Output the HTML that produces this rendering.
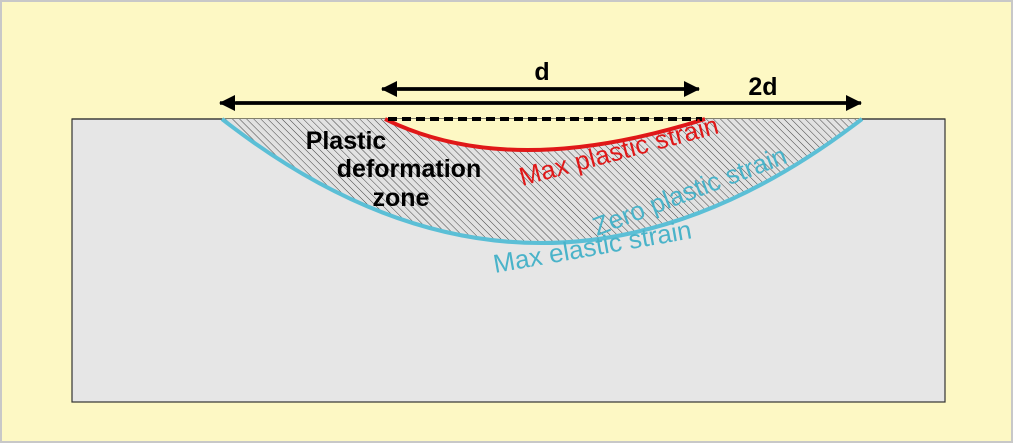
<!DOCTYPE html>
<html><head><style>
html,body{margin:0;padding:0;background:#fdf8c4;}
svg{display:block;}
</style></head><body>
<svg width="1013" height="443" viewBox="0 0 1013 443" xmlns="http://www.w3.org/2000/svg">
<defs>
<pattern id="h" width="5" height="5" patternUnits="userSpaceOnUse" patternTransform="rotate(-45)">
<rect width="5" height="5" fill="#e2e2e2"/>
<line x1="0" y1="0" x2="0" y2="5" stroke="#444" stroke-width="1"/>
</pattern>
<marker id="a" markerWidth="16" markerHeight="16" refX="15" refY="8" orient="auto" markerUnits="userSpaceOnUse">
<path d="M0,0 L16,8 L0,16 Z" fill="#000"/>
</marker>
</defs>
<rect x="1" y="1" width="1011" height="441" fill="#fdf8c4" stroke="#c8c8c8" stroke-width="2"/>
<rect x="72" y="119" width="873" height="283" fill="#e6e6e6" stroke="#333" stroke-width="1.2"/>
<path d="M222,119 Q540,367 862,119 Z" fill="url(#h)"/>
<path d="M385,119 Q510,181 705,119 Z" fill="#fdf8c4"/>
<line x1="72" y1="119" x2="222" y2="119" stroke="#333" stroke-width="1.2"/>
<line x1="862" y1="119" x2="945" y2="119" stroke="#333" stroke-width="1.2"/>
<path d="M222,119 Q540,367 862,119" fill="none" stroke="#5bbfd6" stroke-width="4"/>
<path d="M385,119 Q510,181 705,119" fill="none" stroke="#e01818" stroke-width="4"/>
<line x1="388" y1="119" x2="702" y2="119" stroke="#000" stroke-width="4" stroke-dasharray="9,5"/>
<line x1="236" y1="103" x2="861" y2="103" stroke="#000" stroke-width="3.5" marker-end="url(#a)"/>
<line x1="846" y1="103" x2="220" y2="103" stroke="#000" stroke-width="3.5" marker-end="url(#a)"/>
<line x1="398" y1="89" x2="699" y2="89" stroke="#000" stroke-width="3.5" marker-end="url(#a)"/>
<line x1="684" y1="89" x2="382" y2="89" stroke="#000" stroke-width="3.5" marker-end="url(#a)"/>
<g font-family="Liberation Sans, sans-serif" font-weight="bold" font-size="25" fill="#000" text-anchor="middle">
<text x="542" y="80">d</text>
<text x="763" y="95">2d</text>
<text x="346" y="149">Plastic</text>
<text x="409" y="177">deformation</text>
<text x="401" y="206">zone</text>
</g>
<g font-family="Liberation Sans, sans-serif" font-size="26">
<text transform="translate(522,186) rotate(-15)" fill="#e01818" textLength="205">Max plastic strain</text>
<text transform="translate(597,236) rotate(-21)" fill="#4ab3c9">Zero plastic strain</text>
<text transform="translate(495,273) rotate(-10)" fill="#4ab3c9">Max elastic strain</text>
</g>
</svg>
</body></html>
